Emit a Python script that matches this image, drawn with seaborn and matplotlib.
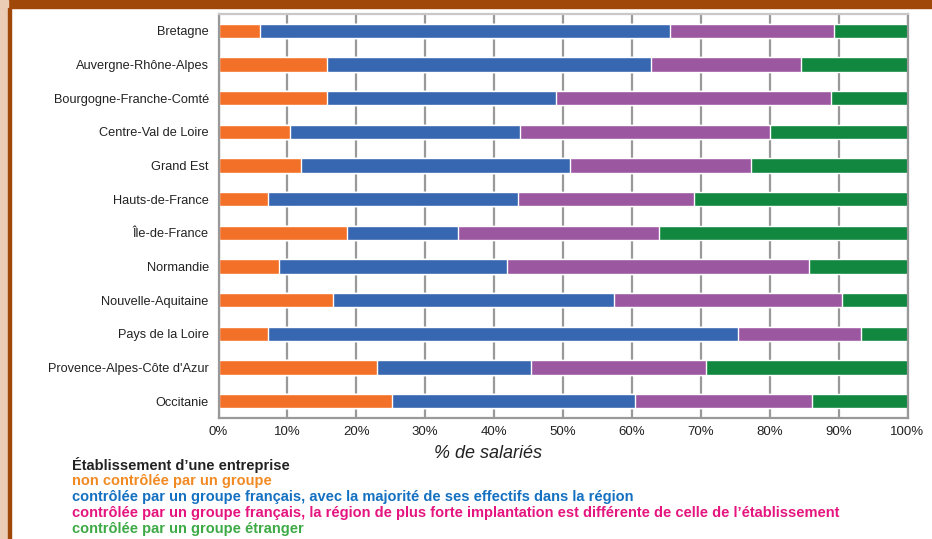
import pandas as pd
import matplotlib.pyplot as plt
import seaborn as sns
from matplotlib.patches import Rectangle

# Data (% de salariés)
regions = [
    "Bretagne", "Auvergne-Rhône-Alpes", "Bourgogne-Franche-Comté",
    "Centre-Val de Loire", "Grand Est", "Hauts-de-France", "Île-de-France",
    "Normandie", "Nouvelle-Aquitaine", "Pays de la Loire",
    "Provence-Alpes-Côte d'Azur", "Occitanie",
]
non_controlee = [6.0, 15.7, 15.7, 10.4, 12.0, 7.2, 18.6, 8.8, 16.6, 7.2, 23.0, 25.2]
groupe_fr_region = [59.5, 47.1, 33.3, 33.4, 39.0, 36.3, 16.2, 33.1, 40.8, 68.2, 22.4, 35.3]
groupe_fr_autre = [23.8, 21.7, 39.9, 36.2, 26.3, 25.5, 29.1, 43.8, 33.1, 17.9, 25.4, 25.6]
groupe_etranger = [10.7, 15.5, 11.1, 20.0, 22.7, 31.0, 36.1, 14.3, 9.5, 6.7, 29.2, 13.9]

legend_title = "Établissement d\u2019une entreprise"
legend_labels = [
    "non contrôlée par un groupe",
    "contrôlée par un groupe français, avec la majorité de ses effectifs dans la région",
    "contrôlée par un groupe français, la région de plus forte implantation est différente de celle de l\u2019établissement",
    "contrôlée par un groupe étranger",
]
bar_colors = ["#F37029", "#3767B1", "#9C57A1", "#11873F"]
text_colors = ["#F28A24", "#1470C0", "#E5157F", "#3DAA46"]

df = pd.DataFrame({
    "region": regions,
    "s1": non_controlee,
    "s2": groupe_fr_region,
    "s3": groupe_fr_autre,
    "s4": groupe_etranger,
})
cols = ["s1", "s2", "s3", "s4"]
cum = df[cols].cumsum(axis=1)
cum["region"] = df["region"]

sns.set_style("white")
plt.rcParams["font.family"] = ["Liberation Sans", "DejaVu Sans"]

fig = plt.figure(figsize=(9.32, 5.39), dpi=100)
fig.patch.set_facecolor("white")
# page decorations: brown header band and left strip
fig.patches.append(Rectangle((0, 1 - 8 / 539), 1, 8 / 539, transform=fig.transFigure,
                             color="#A0470A", zorder=0))
fig.patches.append(Rectangle((0, 0), 8 / 932, 1, transform=fig.transFigure,
                             color="#EBCDB5", zorder=0))
fig.patches.append(Rectangle((8 / 932, 0), 2.5 / 932, 1 - 8 / 539, transform=fig.transFigure,
                             color="#A0470A", zorder=0))

ax = fig.add_axes([218.5 / 932, 1 - 418 / 539, 689 / 932, 404 / 539])

# stacked bars: draw cumulative totals from the back to the front
for col, color in reversed(list(zip(cols, bar_colors))):
    sns.barplot(data=cum, x=col, y="region", order=regions, color=color,
                width=0.42, orient="h", ax=ax, zorder=2, saturation=1)

ax.set_xlim(0, 100)
ax.set_ylim(11.5, -0.5)
ax.set_xticks(range(0, 101, 10))
ax.set_xticklabels([f"{v}%" for v in range(0, 101, 10)], fontsize=9.5, color="#222222")
ax.tick_params(axis="y", labelsize=9.2, labelcolor="#222222", length=0, pad=7)
ax.tick_params(axis="x", length=0, pad=6)
ax.set_ylabel("")
ax.set_xlabel("")
ax.xaxis.grid(True, color="#999999", linewidth=1.6, zorder=0)
ax.set_axisbelow(True)
for s in ax.spines.values():
    s.set_visible(True)
    s.set_color("#999999")
    s.set_linewidth(1.6)
ax.spines["top"].set_color("#C8C8C8")

fig.text(488 / 932, 1 - 453 / 539, "% de salariés", fontsize=13, style="italic",
         color="#222222", ha="center", va="center")

# coloured legend text under the chart
fig.text(72 / 932, 1 - 465 / 539, legend_title, fontsize=10.5, weight="bold",
         color="#222222", va="center")
for i, (lab, c) in enumerate(zip(legend_labels, text_colors)):
    fig.text(72 / 932, 1 - (481 + 16 * i) / 539, lab, fontsize=10.5, weight="bold",
             color=c, va="center")

fig.savefig("out.png", dpi=100)
